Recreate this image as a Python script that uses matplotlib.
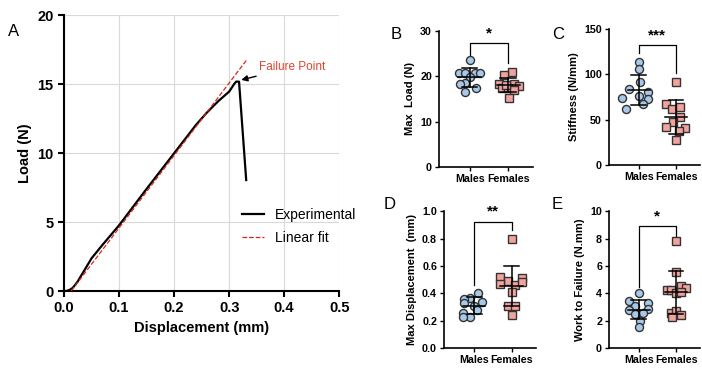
import numpy as np
import matplotlib.pyplot as plt

plt.rcParams['font.family'] = ['Liberation Sans', 'DejaVu Sans']

# Panel A: load-displacement curve
exp_disp = [0.0, 0.005, 0.01, 0.015, 0.02, 0.025, 0.03, 0.04, 0.05, 0.07, 0.1, 0.15,
            0.2, 0.24, 0.26, 0.28, 0.29, 0.3, 0.305, 0.31, 0.313, 0.318, 0.331]
exp_load = [0.0, 0.01, 0.08, 0.2, 0.43, 0.7, 1.04, 1.7, 2.37, 3.35, 4.76, 7.4,
            9.98, 12.05, 12.95, 13.75, 14.1, 14.45, 14.75, 15.05, 15.18, 15.17, 8.04]
fit_disp = [0.013, 0.331]
fit_load = [0.0, 16.7]
failure_xy = (0.322, 15.3)

groups = ["Males", "Females"]

# Panels B-E: (values, jitter offsets) per group
maxload_m = [23.6, 20.8, 20.8, 20.8, 20.7, 19.9, 18.5, 18.2, 17.5, 16.6]
maxload_m_dx = [0.0, -0.27, -0.13, 0.13, 0.26, 0.0, -0.13, -0.26, 0.15, -0.13]
maxload_f = [20.9, 20.3, 18.3, 18.3, 17.4, 17.4, 17.9, 17.0, 15.1, 18.0]
maxload_f_dx = [0.1, -0.1, 0.15, -0.25, -0.15, 0.0, 0.27, 0.15, 0.02, -0.05]

stiff_m = [114, 106, 92, 84, 81, 76, 74, 73, 67, 62]
stiff_m_dx = [0.0, 0.0, 0.02, -0.25, 0.26, 0.0, -0.45, 0.26, 0.1, -0.35]
stiff_f = [92, 67, 62, 64, 53, 47, 42, 41, 37, 28]
stiff_f_dx = [0.0, -0.27, -0.1, 0.1, 0.1, -0.08, -0.27, 0.25, 0.08, 0.0]

disp_m = [0.40, 0.37, 0.36, 0.34, 0.33, 0.31, 0.28, 0.26, 0.23, 0.23]
disp_m_dx = [0.1, -0.1, -0.27, 0.2, -0.27, 0.0, 0.07, -0.3, -0.1, -0.3]
disp_f = [0.80, 0.52, 0.51, 0.49, 0.47, 0.46, 0.48, 0.41, 0.31, 0.31, 0.24]
disp_f_dx = [0.0, -0.3, 0.27, -0.1, -0.3, 0.1, 0.27, 0.0, -0.1, 0.1, 0.0]

work_m = [4.0, 3.44, 3.3, 3.1, 2.78, 2.83, 2.6, 2.5, 2.0, 1.57]
work_m_dx = [0.0, -0.26, 0.26, -0.09, -0.26, 0.26, 0.1, -0.09, 0.02, 0.0]
work_f = [7.8, 5.6, 4.55, 4.4, 4.26, 4.26, 4.0, 4.1, 2.6, 2.7, 2.4, 2.25]
work_f_dx = [0.0, 0.0, 0.13, 0.26, -0.23, -0.13, 0.0, 0.13, -0.13, 0.0, 0.13, -0.1]

fig = plt.figure(figsize=(7.02, 3.76), dpi=100)

# ---------------- Panel A ----------------
ax = fig.add_axes([0.0912, 0.226, 0.392, 0.734])
ax.plot(exp_disp, exp_load, color='black', lw=1.6, label='Experimental', zorder=3)
ax.plot(fit_disp, fit_load, '--', color='#d62718', lw=0.9, label='Linear fit', zorder=4)
ax.set_xlim(0, 0.5)
ax.set_ylim(0, 20)
ax.set_xticks([0, 0.1, 0.2, 0.3, 0.4, 0.5])
ax.set_xticklabels(['0.0', '0.1', '0.2', '0.3', '0.4', '0.5'])
ax.set_yticks([0, 5, 10, 15, 20])
ax.grid(True, color='#d9d9d9', lw=0.8)
for s in ['top', 'right']:
    ax.spines[s].set_visible(False)
for s in ['left', 'bottom']:
    ax.spines[s].set_linewidth(1.5)
ax.tick_params(width=1.5, length=4, labelsize=10.5)
for lab in ax.get_xticklabels() + ax.get_yticklabels():
    lab.set_fontweight('bold')
ax.set_xlabel('Displacement (mm)', fontsize=10.5, fontweight='bold')
ax.set_ylabel('Load (N)', fontsize=10.5, fontweight='bold')
ax.annotate('Failure Point', xy=failure_xy, xytext=(0.354, 16.2),
            color='#e0442c', fontsize=8.5, va='center',
            arrowprops=dict(arrowstyle='-|>', color='black', lw=1.0,
                            mutation_scale=9, shrinkA=0, shrinkB=0))
ax.legend(loc='center left', bbox_to_anchor=(0.60, 0.235), frameon=False,
          fontsize=10, handlelength=1.6, labelspacing=0.65, handletextpad=0.8)
fig.text(0.012, 0.905, 'A', fontsize=12)

# ---------------- Scatter panels ----------------
male_col = '#a8c8e8'
female_col = '#f2a39d'

def dot_panel(rect, letter, letter_xy, males, mdx, females, fdx, ylim, yticks,
              yticklabels, ylabel, stars, bracket):
    a = fig.add_axes(rect)
    for i, (vals, dx, col, mk) in enumerate([(males, mdx, male_col, 'o'),
                                             (females, fdx, female_col, 's')]):
        xs = i + np.array(dx)
        a.plot(xs, vals, mk, ms=5.8, mfc=col, mec='#333333', mew=1.0,
               zorder=3, clip_on=False)
        m = np.mean(vals)
        sd = np.std(vals, ddof=1)
        a.plot([i - 0.3, i + 0.3], [m, m], color='black', lw=1.1, zorder=4)
        a.plot([i, i], [m - sd, m + sd], color='black', lw=1.1, zorder=4)
        a.plot([i - 0.2, i + 0.2], [m + sd, m + sd], color='black', lw=1.1, zorder=4)
        a.plot([i - 0.2, i + 0.2], [m - sd, m - sd], color='black', lw=1.1, zorder=4)
    top, lm, lf = bracket
    a.plot([0, 0, 1, 1], [lm, top, top, lf], color='black', lw=0.9, clip_on=False)
    a.text(0.5, top + (ylim[1] - ylim[0]) * 0.02, stars, ha='center', va='bottom',
           fontsize=11, fontweight='bold')
    a.set_xlim(-0.8, 1.65)
    a.set_ylim(*ylim)
    a.set_xticks([0, 1])
    a.set_xticklabels(groups)
    a.set_yticks(yticks)
    a.set_yticklabels(yticklabels)
    for s in ['top', 'right']:
        a.spines[s].set_visible(False)
    for s in ['left', 'bottom']:
        a.spines[s].set_linewidth(1.2)
    a.tick_params(width=1.0, length=3, labelsize=7.7, pad=2)
    for lab in a.get_xticklabels() + a.get_yticklabels():
        lab.set_fontweight('bold')
    a.set_ylabel(ylabel, fontsize=8, fontweight='bold', labelpad=4)
    fig.text(letter_xy[0], letter_xy[1], letter, fontsize=12, va='center')
    return a

dot_panel([0.6254, 0.556, 0.134, 0.362], 'B', (0.556, 0.908), maxload_m, maxload_m_dx,
          maxload_f, maxload_f_dx, (0, 30), [0, 10, 20, 30],
          ['0', '10', '20', '30'], 'Max  Load (N)', '*', (27.3, 23.4, 22.9))
dot_panel([0.8675, 0.561, 0.13, 0.362], 'C', (0.786, 0.908), stiff_m, stiff_m_dx,
          stiff_f, stiff_f_dx, (0, 150), [0, 50, 100, 150],
          ['0', '50', '100', '150'], 'Stiffness (N/mm)', '***', (132, 123, 102))
dot_panel([0.6325, 0.074, 0.131, 0.364], 'D', (0.547, 0.455), disp_m, disp_m_dx,
          disp_f, disp_f_dx, (0, 1.0), [0, 0.2, 0.4, 0.6, 0.8, 1.0],
          ['0.0', '0.2', '0.4', '0.6', '0.8', '1.0'], 'Max Displacement  (mm)',
          '**', (0.925, 0.46, 0.86))
dot_panel([0.8675, 0.074, 0.13, 0.364], 'E', (0.786, 0.455), work_m, work_m_dx,
          work_f, work_f_dx, (0, 10), [0, 2, 4, 6, 8, 10],
          ['0', '2', '4', '6', '8', '10'], 'Work to Failure (N.mm)', '*',
          (8.9, 4.5, 8.2))

fig.savefig('out.png', dpi=100)
